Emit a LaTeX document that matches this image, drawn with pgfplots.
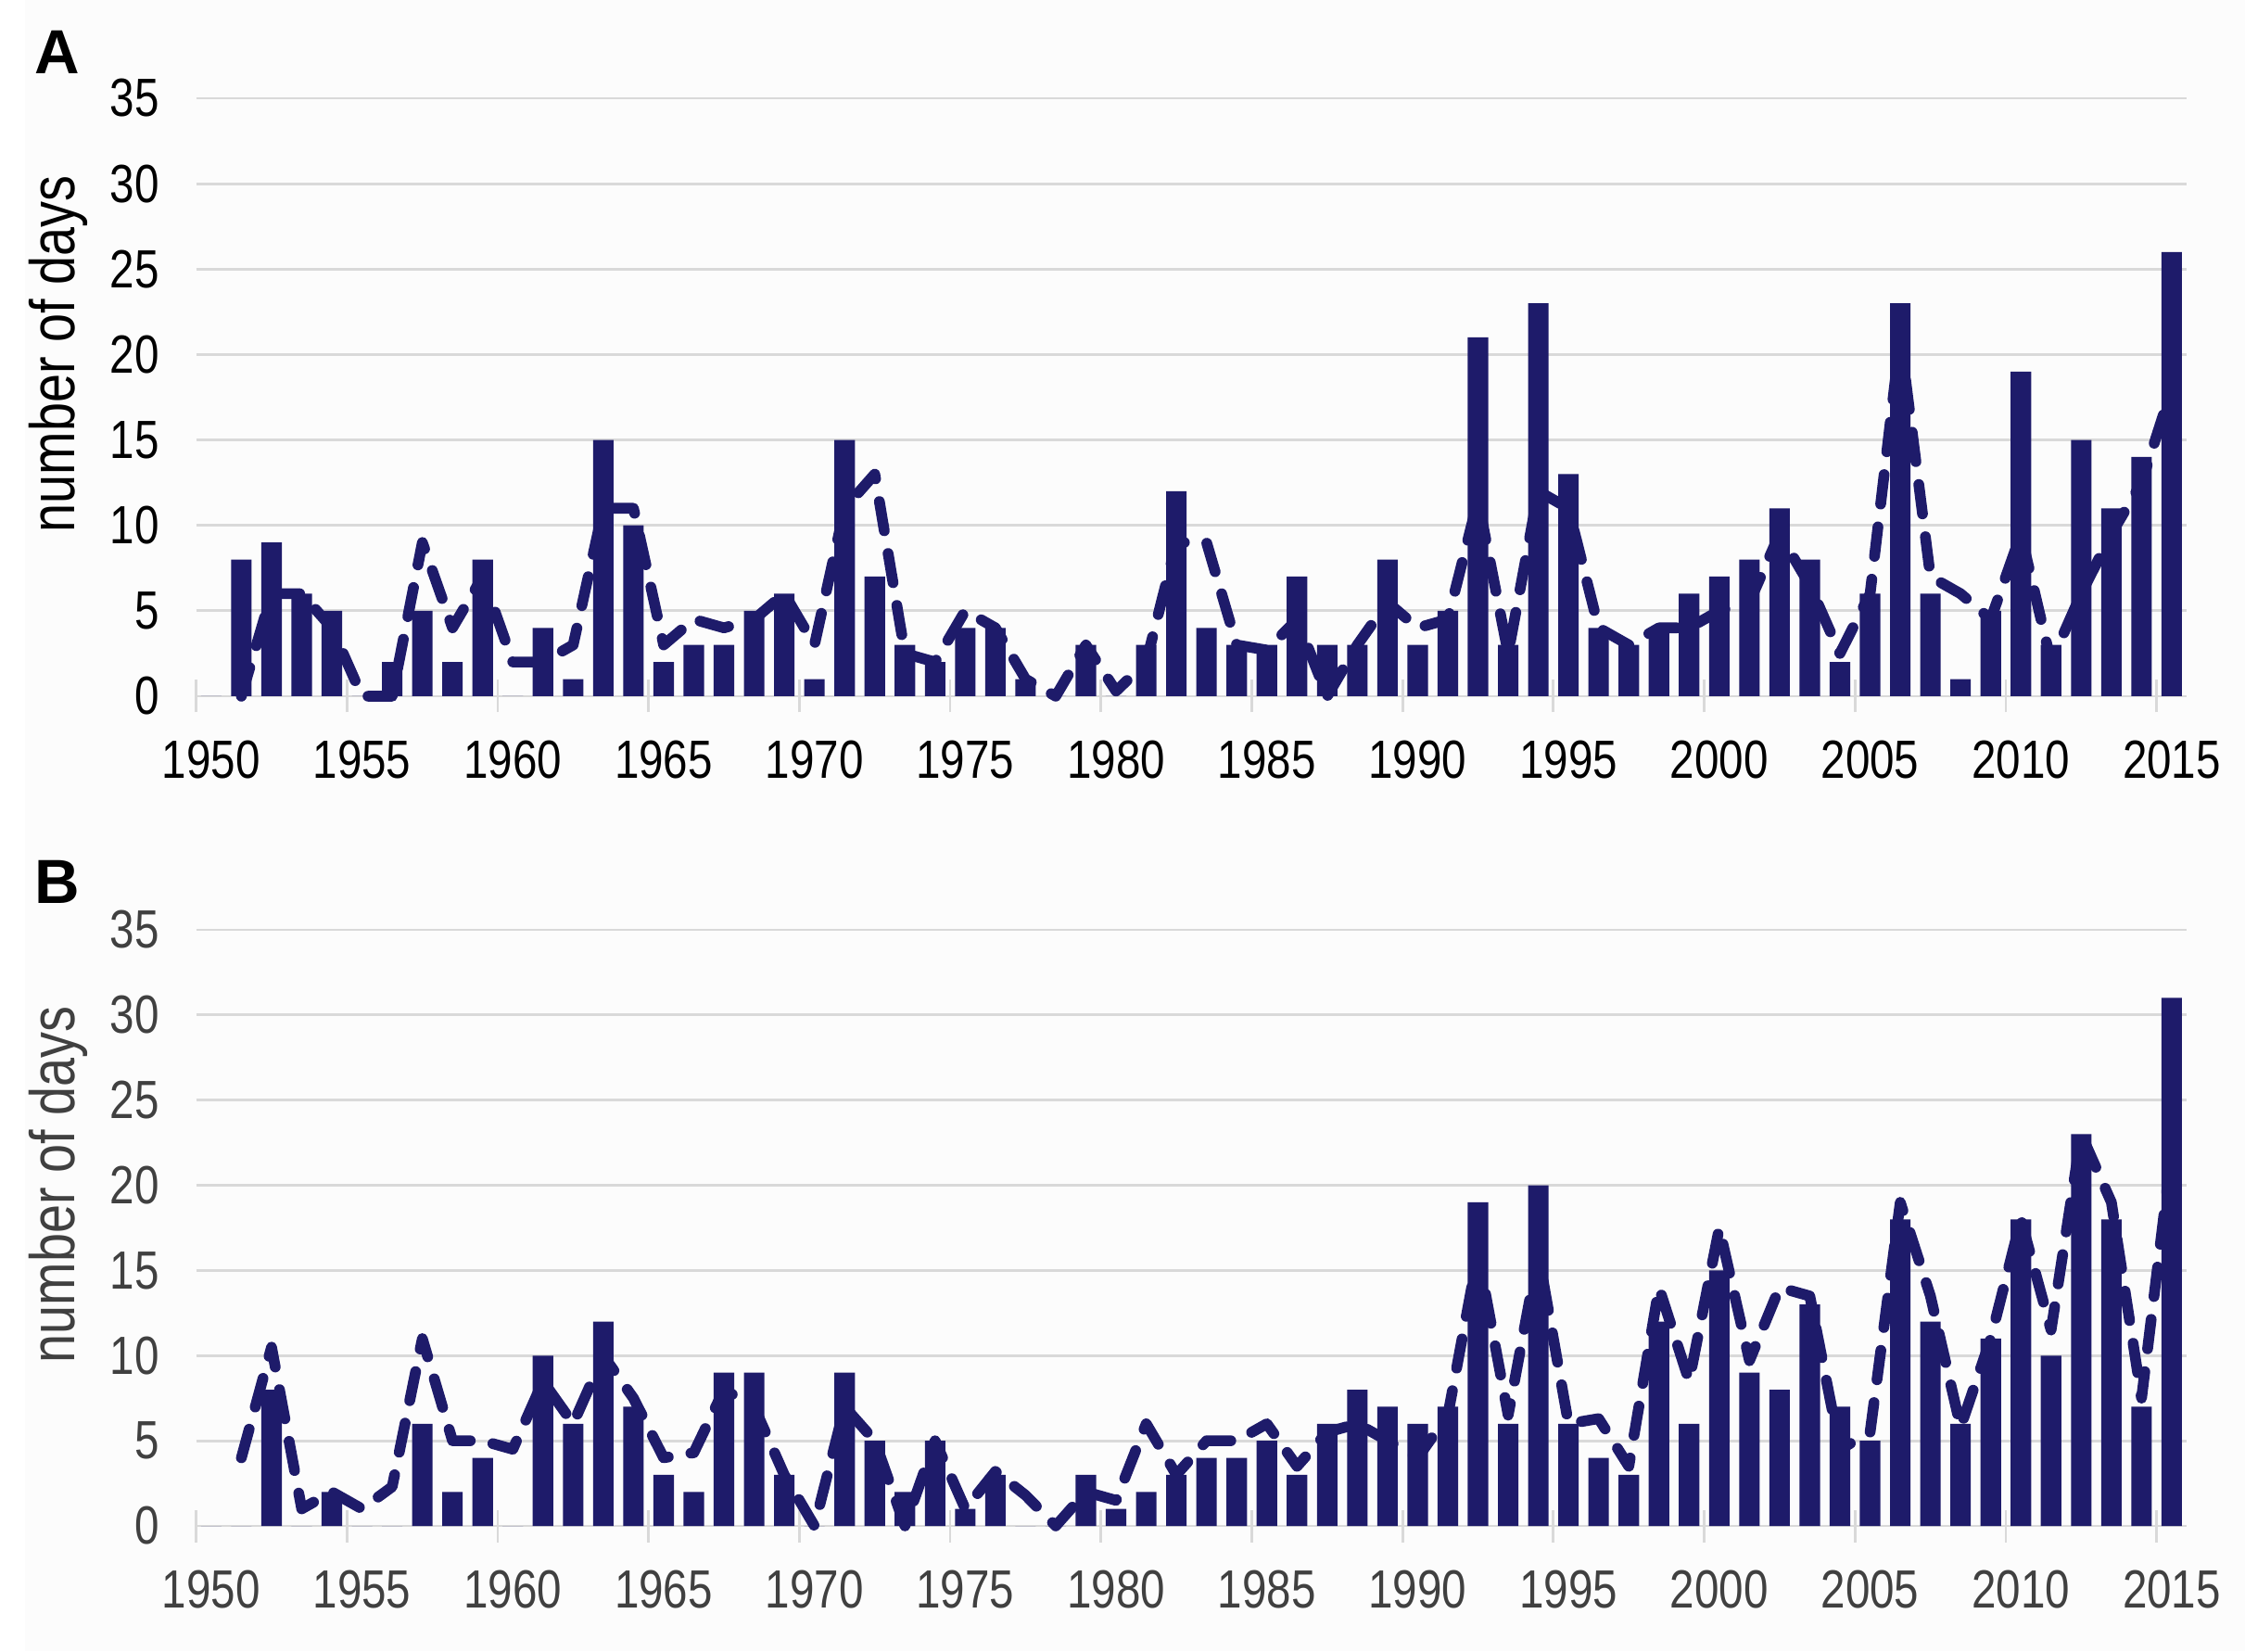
\documentclass[border=0pt]{standalone}
\usepackage{fontspec}
\setmainfont{Liberation Sans}
\newfontfamily\narrow[FakeStretch=0.82]{Liberation Sans}
\usepackage{pgfplots}
\usepackage{pgfplotstable}
\pgfplotsset{compat=1.18}
\definecolor{navy}{HTML}{1E1B6A}
\definecolor{gridc}{HTML}{D9D9D9}
\definecolor{labc}{HTML}{404040}
\definecolor{bgc}{HTML}{FCFCFC}
\newcommand{\tfont}{\narrow\fontsize{14.5}{16}\selectfont}

\pgfplotstableread{
year bar line
1950 0 nan
1951 8 0
1952 9 6
1953 6 6
1954 5 4
1955 0 0
1956 2 0
1957 5 9
1958 2 4
1959 8 7
1960 0 2
1961 4 2
1962 1 3
1963 15 11
1964 10 11
1965 2 3
1966 3 4.5
1967 3 4
1968 5 4.5
1969 6 6
1970 1 3
1971 15 11
1972 7 13
1973 3 2.5
1974 2 2
1975 4 5
1976 4 4
1977 1 1
1978 0 0
1979 3 3
1980 0 0.3
1981 3 2
1982 12 9
1983 4 9
1984 3 3
1985 3 2.7
1986 7 4.5
1987 3 0
1988 3 3
1989 8 5.5
1990 3 4
1991 5 4.5
1992 21 11.5
1993 3 2.5
1994 23 12
1995 13 11
1996 4 4
1997 3 3
1998 4 4
1999 6 4
2000 7 5
2001 8 5.5
2002 11 9.5
2003 8 6.5
2004 2 2.5
2005 6 6
2006 23 21
2007 6 7
2008 1 6
2009 5 4.5
2010 19 9.5
2011 3 2
2012 15 6
2013 11 9.5
2014 14 12.5
2015 26 18
}\dataA

\pgfplotstableread{
year bar line
1950 0 nan
1951 0 4
1952 8 10.5
1953 0 1
1954 2 2
1955 0 1
1956 0 2.3
1957 6 11
1958 2 5
1959 4 5
1960 0 4.5
1961 10 8.5
1962 6 6
1963 12 10
1964 7 7.5
1965 3 4
1966 2 4.3
1967 9 8
1968 9 7
1969 3 3
1970 0 0
1971 9 7
1972 5 5
1973 2 0
1974 5 5
1975 1 1
1976 3 3.2
1977 0 1.8
1978 0 0
1979 3 2
1980 1 1.5
1981 2 6
1982 3 3
1983 4 5
1984 4 5
1985 5 6
1986 3 3.5
1987 6 5.5
1988 8 6
1989 7 5
1990 6 4
1991 7 6.5
1992 19 16
1993 6 6.5
1994 20 16
1995 6 6
1996 4 6.3
1997 3 3.5
1998 12 14
1999 6 8.5
2000 15 17.5
2001 9 9.7
2002 8 14
2003 13 13.5
2004 7 4.5
2005 5 5.5
2006 18 19
2007 12 13.5
2008 6 5.8
2009 11 11
2010 18 18
2011 10 11.5
2012 23 23
2013 18 19
2014 7 7.5
2015 31 22
}\dataB

\pgfplotsset{
  panel/.style={
    scale only axis,
    width=536.9pt,
    anchor=south west,
    xmin=1949.5, xmax=2015.5,
    ymin=0, ymax=35,
    axis line style={draw=none},
    ymajorgrids,
    major grid style={gridc, line width=0.7pt},
    ytick={0,5,...,35},
    xtick={1950,1955,...,2015},
    xticklabels={1950,1955,1960,1965,1970,1975,1980,1985,1990,1995,2000,2005,2010,2015},
    minor xtick={1949.5,1954.5,1959.5,1964.5,1969.5,1974.5,1979.5,1984.5,1989.5,1994.5,1999.5,2004.5,2009.5,2014.5},
    major tick length=0pt,
    minor tick length=8.75pt,
    tick align=center,
    minor tick style={gridc, line width=0.7pt},
    xtick pos=bottom, ytick pos=left,
    /pgf/number format/assume math mode=true,
    ticklabel style={font=\tfont},
    xticklabel shift=8.5pt,
    yticklabel shift=6.4pt,
    clip=false,
  },
  barstyle/.style={ybar, bar width=0.68, fill=navy, draw=none},
  linestyle/.style={navy, line width=2.9pt, line cap=round, line join=round,
    dash pattern=on 8pt off 6.2pt, mark=none},
}

\begin{document}
\begin{tikzpicture}
\fill[white] (0pt,0pt) rectangle (605.5pt,445.25pt);
\fill[bgc] (6.75pt,0pt) rectangle (605.5pt,445.25pt);
\useasboundingbox (0pt,0pt) rectangle (605.5pt,445.25pt);

\begin{axis}[panel, at={(52.9pt,257.5pt)}, height=161.25pt,
  ticklabel style={text=black}]
\addplot[barstyle] table[x=year, y=bar] {\dataA};
\addplot[linestyle] table[x=year, y=line] {\dataA};
\end{axis}

\begin{axis}[panel, at={(52.9pt,33.75pt)}, height=160.75pt,
  ticklabel style={text=labc}]
\addplot[barstyle] table[x=year, y=bar] {\dataB};
\addplot[linestyle] table[x=year, y=line] {\dataB};
\end{axis}

\node[rotate=90, font=\narrow\fontsize{17}{20}\selectfont, text=black] at (15.75pt,349.75pt) {number of days};
\node[rotate=90, font=\narrow\fontsize{17}{20}\selectfont, text=labc] at (15.75pt,125.75pt) {number of days};

\node[anchor=base west, inner sep=0pt, font=\bfseries\fontsize{16.8}{18}\selectfont] at (9.2pt,425.25pt) {A};
\node[anchor=base west, inner sep=0pt, font=\bfseries\fontsize{16.8}{18}\selectfont] at (9.2pt,201.5pt) {B};
\end{tikzpicture}
\end{document}
